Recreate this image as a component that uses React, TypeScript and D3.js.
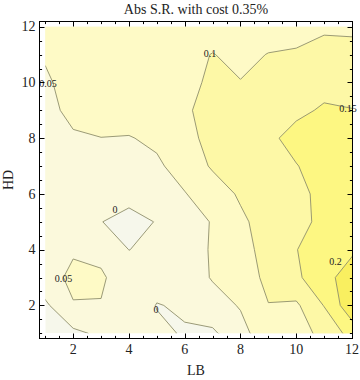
import React, { useEffect, useRef } from 'react';
import * as d3 from 'd3';

// grid axes
const lbValues = [1, 2, 3, 4, 5, 6, 7, 8, 9, 10, 11, 12];
const hdValues = [1, 2, 3, 4, 5, 6, 7, 8, 9, 10, 11, 12];

// Abs S.R. values, one row per HD (1..12), columns LB 1..12
const rowHD1 = [-0.03, -0.0105, 0.009, 0.025, 0.01, -0.004, -0.01, 0.041, 0.067, 0.085, 0.11, 0.17];
const rowHD2 = [-0.009, 0.048, 0.048, 0.035, -0.002, 0.006, 0.039, 0.052, 0.099, 0.092, 0.152, 0.235];
const rowHD3 = [0.035, 0.058, 0.056, 0.025, 0.02, 0.035, 0.052, 0.08, 0.109, 0.142, 0.18, 0.23];
const rowHD4 = [0.025, 0.046, 0.038, -0.0005, 0.01, 0.035, 0.053, 0.09, 0.11, 0.149, 0.17, 0.19];
const rowHD5 = [0.02, 0.018, 0.001, -0.015, 0.002, 0.035, 0.052, 0.09, 0.123, 0.14, 0.158, 0.185];
const rowHD6 = [0.02, 0.022, 0.02, 0.015, 0.03, 0.048, 0.073, 0.107, 0.125, 0.14, 0.16, 0.175];
const rowHD7 = [0.025, 0.03, 0.035, 0.038, 0.0432, 0.068, 0.106, 0.125, 0.135, 0.148, 0.17, 0.18];
const rowHD8 = [0.03, 0.044, 0.0494, 0.0478, 0.058, 0.085, 0.115, 0.125, 0.14, 0.166, 0.175, 0.18];
const rowHD9 = [0.035, 0.063, 0.068, 0.07, 0.075, 0.095, 0.113, 0.125, 0.135, 0.14, 0.1555, 0.1515];
const rowHD10 = [0.0425, 0.07, 0.075, 0.078, 0.08, 0.092, 0.105, 0.101, 0.115, 0.125, 0.135, 0.13];
const rowHD11 = [0.055, 0.065, 0.07, 0.072, 0.075, 0.091, 0.101, 0.092, 0.101, 0.1036, 0.123, 0.114];
const rowHD12 = [0.06, 0.065, 0.07, 0.07, 0.072, 0.075, 0.085, 0.08, 0.085, 0.088, 0.09, 0.092];

const srRows = [rowHD1, rowHD2, rowHD3, rowHD4, rowHD5, rowHD6, rowHD7, rowHD8, rowHD9, rowHD10, rowHD11, rowHD12];

const levels = [0, 0.05, 0.1, 0.15, 0.2];
const bandColors = ['#f6f7eb', '#fbf9dc', '#fefac6', '#fdf8a6', '#fdf782', '#f9ef60'];

// contour labels, in data units
const labelText = ['0.1', '0.05', '0.15', '0', '0.05', '0', '0.2'];
const labelLB = [6.91, 1.1, 11.86, 3.5, 1.65, 4.97, 11.41];
const labelHD = [11.05, 9.97, 9.07, 5.45, 2.95, 1.86, 3.56];

const majorTicks = [2, 4, 6, 8, 10, 12];

const font = '"Liberation Serif", "Times New Roman", serif';

const App = () => {
    const svgRef = useRef<SVGSVGElement>(null);

    useEffect(() => {
        const svg = d3.select(svgRef.current);
        svg.selectAll('*').remove();

        const frame = { left: 39.5, right: 352.5, top: 21.5, bottom: 338.5 };

        const x = d3.scaleLinear().domain([1, 12]).range([45.3, 352]);
        const y = d3.scaleLinear().domain([1, 12]).range([333.3, 26.7]);

        const nx = lbValues.length;
        const ny = hdValues.length;
        const gx = d3.scaleLinear().domain([0.5, nx - 0.5]).range([lbValues[0], lbValues[nx - 1]]);
        const gy = d3.scaleLinear().domain([0.5, ny - 0.5]).range([hdValues[0], hdValues[ny - 1]]);

        const contours = d3.contours().size([nx, ny]).thresholds(levels)(srRows.flat());

        const projected = contours.map(c => ({
            ...c,
            coordinates: c.coordinates.map(poly =>
                poly.map(ring => ring.map(([cx, cy]) => [x(gx(cx)), y(gy(cy))]))
            )
        }));

        const path = d3.geoPath();

        svg
            .append('defs')
            .append('clipPath')
            .attr('id', 'plot-clip')
            .append('rect')
            .attr('x', x(1))
            .attr('y', y(12))
            .attr('width', x(12) - x(1))
            .attr('height', y(1) - y(12));

        const plot = svg.append('g').attr('clip-path', 'url(#plot-clip)');

        plot
            .append('rect')
            .attr('x', x(1))
            .attr('y', y(12))
            .attr('width', x(12) - x(1))
            .attr('height', y(1) - y(12))
            .attr('fill', bandColors[0]);

        plot
            .selectAll('.band')
            .data(projected)
            .enter()
            .append('path')
            .attr('class', 'band')
            .attr('d', d => path(d as any))
            .attr('fill', (d, i) => bandColors[i + 1])
            .attr('fill-rule', 'evenodd');

        plot
            .selectAll('.line')
            .data(projected)
            .enter()
            .append('path')
            .attr('class', 'line')
            .attr('d', d => path(d as any))
            .attr('fill', 'none')
            .attr('stroke', '#8e8e6c')
            .attr('stroke-width', 0.9)
            .attr('stroke-linejoin', 'round');

        // contour labels
        svg
            .selectAll('.clabel')
            .data(labelText)
            .enter()
            .append('text')
            .attr('class', 'clabel')
            .attr('x', (d, i) => x(labelLB[i]))
            .attr('y', (d, i) => y(labelHD[i]))
            .attr('dy', '0.35em')
            .attr('text-anchor', 'middle')
            .style('font-family', font)
            .style('font-size', '10px')
            .attr('fill', '#222')
            .text(d => d);

        // frame
        svg
            .append('rect')
            .attr('x', frame.left)
            .attr('y', frame.top)
            .attr('width', frame.right - frame.left)
            .attr('height', frame.bottom - frame.top)
            .attr('fill', 'none')
            .attr('stroke', '#000')
            .attr('stroke-width', 1);

        const minorTicks = d3.range(1, 12.01, 0.5).filter(v => !majorTicks.includes(v));
        const ticks = [
            ...majorTicks.map(v => ({ v, len: 5 })),
            ...minorTicks.map(v => ({ v, len: 2.6 }))
        ];

        const tickG = svg.append('g').attr('stroke', '#000').attr('stroke-width', 1);

        ticks.forEach(t => {
            const tx = Math.round(x(t.v)) + 0.5;
            const ty = Math.round(y(t.v)) + 0.5;
            tickG.append('line').attr('x1', tx).attr('x2', tx).attr('y1', frame.bottom).attr('y2', frame.bottom - t.len);
            tickG.append('line').attr('x1', tx).attr('x2', tx).attr('y1', frame.top).attr('y2', frame.top + t.len);
            tickG.append('line').attr('y1', ty).attr('y2', ty).attr('x1', frame.left).attr('x2', frame.left + t.len);
            tickG.append('line').attr('y1', ty).attr('y2', ty).attr('x1', frame.right).attr('x2', frame.right - t.len);
        });

        svg
            .selectAll('.xtick')
            .data(majorTicks)
            .enter()
            .append('text')
            .attr('class', 'xtick')
            .attr('x', d => x(d))
            .attr('y', 353.5)
            .attr('text-anchor', 'middle')
            .style('font-family', font)
            .style('font-size', '14px')
            .attr('fill', '#222')
            .text(d => d);

        svg
            .selectAll('.ytick')
            .data(majorTicks)
            .enter()
            .append('text')
            .attr('class', 'ytick')
            .attr('x', 35.5)
            .attr('y', d => y(d))
            .attr('dy', '0.33em')
            .attr('text-anchor', 'end')
            .style('font-family', font)
            .style('font-size', '14px')
            .attr('fill', '#222')
            .text(d => d);

        const midX = (frame.left + frame.right) / 2;
        const midY = (frame.top + frame.bottom) / 2;

        svg
            .append('text')
            .attr('x', midX)
            .attr('y', 13.5)
            .attr('text-anchor', 'middle')
            .style('font-family', font)
            .style('font-size', '14px')
            .attr('fill', '#222')
            .text('Abs S.R. with cost 0.35%');

        svg
            .append('text')
            .attr('x', midX)
            .attr('y', 375)
            .attr('text-anchor', 'middle')
            .style('font-family', font)
            .style('font-size', '14px')
            .attr('fill', '#222')
            .text('LB');

        svg
            .append('text')
            .attr('transform', `translate(12.5, ${midY}) rotate(-90)`)
            .attr('text-anchor', 'middle')
            .style('font-family', font)
            .style('font-size', '14px')
            .attr('fill', '#222')
            .text('HD');
    }, []);

    return (
        <svg
            ref={svgRef}
            width={360}
            height={380}
            style={{ position: 'absolute', left: 0, top: 0, background: '#fff' }}
        ></svg>
    );
};

export default App;
